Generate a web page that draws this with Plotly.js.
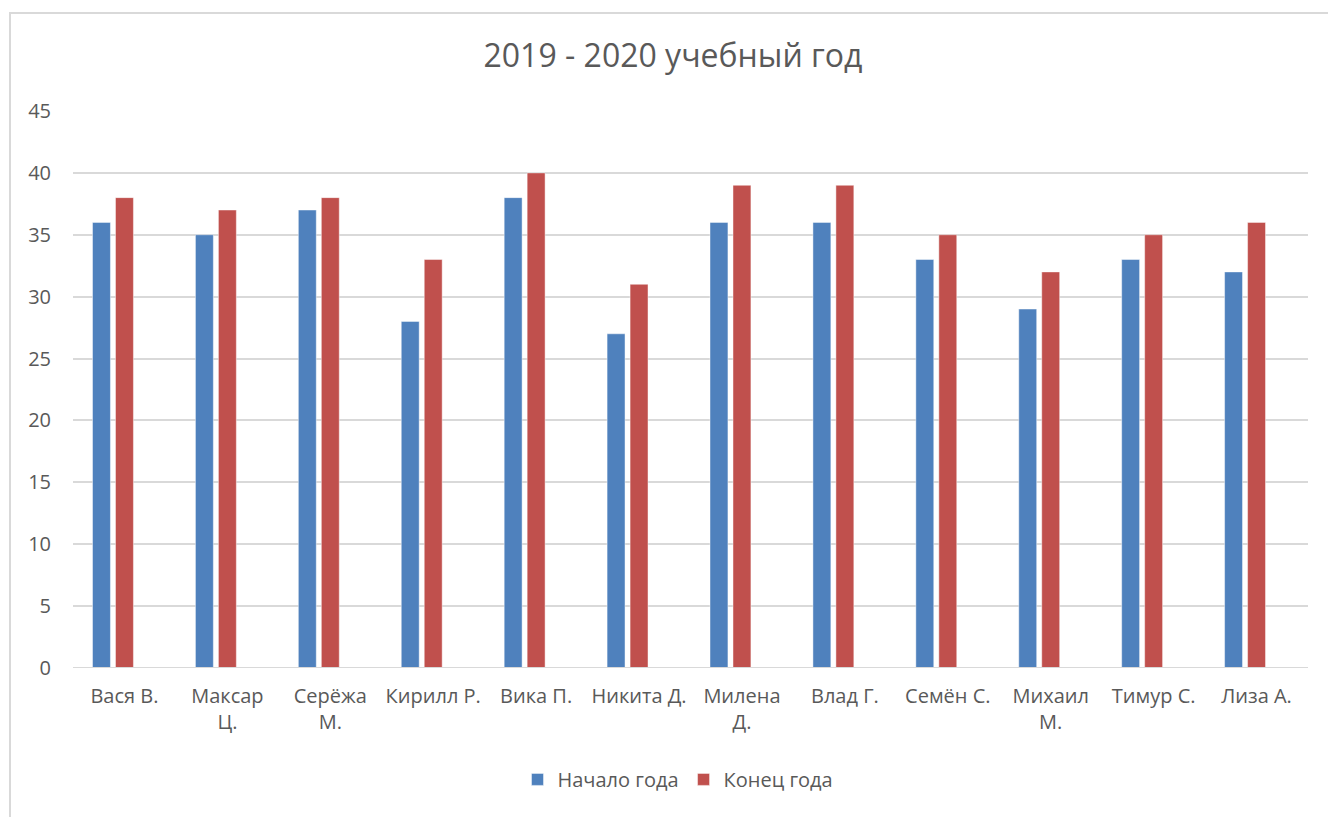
<!DOCTYPE html>
<html>
<head>
<meta charset="utf-8">
<script src="https://cdn.plot.ly/plotly-3.0.1.min.js"></script>
<style>
  html, body { margin: 0; padding: 0; background: #fff; }
  #wrap { position: relative; width: 1328px; height: 817px; overflow: hidden; }
  #chart { position: absolute; left: 0; top: 0; width: 1328px; height: 817px; }
  #frame { position: absolute; left: 9px; top: 12px; width: 1400px; height: 900px;
           border-left: 2px solid #d9d9d9; border-top: 2px solid #d9d9d9; pointer-events: none; }
</style>
</head>
<body>
<div id="wrap">
  <div id="chart"></div>
  <div id="frame"></div>
</div>
<script>
const categories = ["Вася В.", "Максар Ц.", "Серёжа М.", "Кирилл Р.", "Вика П.", "Никита Д.",
                    "Милена Д.", "Влад Г.", "Семён С.", "Михаил М.", "Тимур С.", "Лиза А."];
const tickLabels = ["Вася В.", "Максар<br>Ц.", "Серёжа<br>М.", "Кирилл Р.", "Вика П.", "Никита Д.",
                    "Милена<br>Д.", "Влад Г.", "Семён С.", "Михаил<br>М.", "Тимур С.", "Лиза А."];
const startOfYear = [36, 35, 37, 28, 38, 27, 36, 36, 33, 29, 33, 32];
const endOfYear   = [38, 37, 38, 33, 40, 31, 39, 39, 35, 32, 35, 36];
const emptySeries = [null, null, null, null, null, null, null, null, null, null, null, null];
const seriesNames = ["Начало года", "Конец года"];
const yTicks = [0, 5, 10, 15, 20, 25, 30, 35, 40, 45];

const FONT = "Open Sans, Liberation Sans, sans-serif";
const TXT = "#595959";

const traces = [
  { type: "bar", name: seriesNames[0], x: categories, y: startOfYear,
    marker: { color: "#4F81BD", line: { color: "rgba(255,255,255,0.45)", width: 1 } },
    hoverinfo: "x+y+name" },
  { type: "bar", name: seriesNames[1], x: categories, y: endOfYear,
    marker: { color: "#C0504D", line: { color: "rgba(255,255,255,0.45)", width: 1 } },
    hoverinfo: "x+y+name" },
  { type: "bar", name: "", x: categories, y: emptySeries, showlegend: false,
    marker: { color: "#9BBB59" }, hoverinfo: "skip" }
];

const layout = {
  width: 1328, height: 817,
  paper_bgcolor: "#ffffff", plot_bgcolor: "#ffffff",
  margin: { l: 73, r: 20, t: 111, b: 149 },
  font: { family: FONT, color: TXT, size: 20 },
  title: { text: "2019 - 2020 учебный год", font: { family: FONT, size: 32, color: TXT },
           x: 673 / 1328, xanchor: "center", xref: "container",
           y: 1 - 56 / 817, yanchor: "middle", yref: "container" },
  barmode: "group", bargap: 0.33, bargroupgap: 0.22,
  xaxis: { type: "category", tickvals: categories, ticktext: tickLabels,
           showgrid: false, zeroline: false, showline: false, ticks: "",
           tickfont: { family: FONT, size: 20, color: TXT }, ticklabelstandoff: 14,
           fixedrange: true },
  yaxis: { range: [0, 45], tickvals: yTicks, showgrid: true, gridcolor: "#d9d9d9", gridwidth: 2,
           zeroline: false, showline: false, ticks: "", ticklabelstandoff: 21,
           tickfont: { family: FONT, size: 20, color: TXT }, fixedrange: true },
  showlegend: true,
  legend: { orientation: "h", x: (678 - 73) / 1235, xanchor: "center", y: -0.2, yanchor: "middle",
            font: { family: FONT, size: 20, color: TXT }, itemclick: false, traceorder: "normal",
            itemwidth: 30 },
  shapes: [
    { type: "line", xref: "paper", yref: "y", x0: 0, x1: 1, y0: 0, y1: 0,
      line: { color: "#d9d9d9", width: 2 }, layer: "above" }
  ]
};

Plotly.newPlot("chart", traces, layout, { staticPlot: true, displayModeBar: false });
</script>
</body>
</html>
